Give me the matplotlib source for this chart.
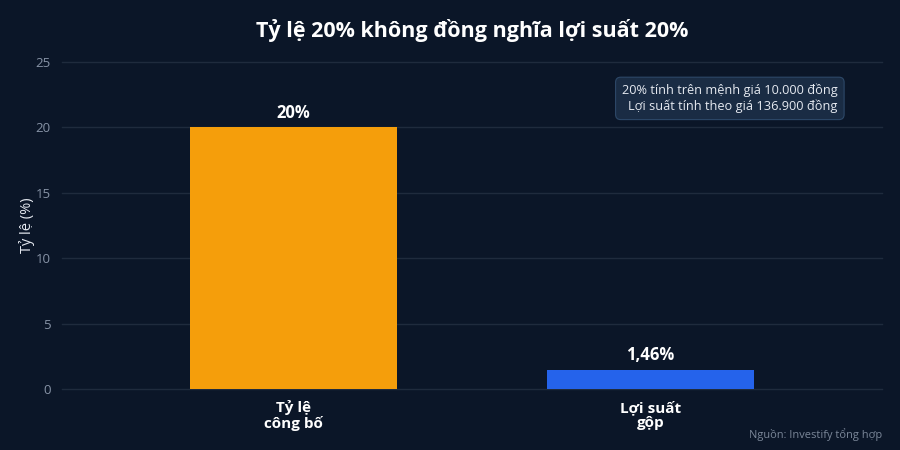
import matplotlib
matplotlib.use("Agg")
import matplotlib.pyplot as plt

categories = ["Tỷ lệ\ncông bố", "Lợi suất\ngộp"]
values = [20, 1.46]
value_labels = ["20%", "1,46%"]
colors = ["#f59e0b", "#2563eb"]
yticks = [0, 5, 10, 15, 20, 25]

plt.rcParams['font.family'] = ['Open Sans', 'Noto Sans', 'DejaVu Sans']
bg = "#0b1628"
fig = plt.figure(figsize=(9, 4.5), dpi=100, facecolor=bg)
ax = fig.add_axes([62/900, 61/450, 820/900, 327/450], facecolor=bg)

x = list(range(len(categories)))
ax.bar(x, values, width=0.58, color=colors, zorder=3)
for xi, v, lab in zip(x, values, value_labels):
    ax.text(xi, v + 0.45, lab, ha="center", va="bottom", color="white",
            fontsize=12, fontweight="bold", zorder=4)

ax.set_xlim(-0.648, 1.648)
ax.set_ylim(0, 25)
ax.set_yticks(yticks)
ax.set_yticklabels([str(t) for t in yticks], color="#8793a6", fontsize=9.5)
ax.set_xticks(x)
ax.set_xticklabels(categories, color="white", fontsize=11, fontweight="bold",
                   linespacing=1.1)
ax.tick_params(axis="both", length=0)
ax.tick_params(axis="x", pad=8)
ax.tick_params(axis="y", pad=8)
ax.grid(axis="y", color="#1f2b3d", linewidth=1, zorder=0)
ax.set_axisbelow(True)
for s in ax.spines.values():
    s.set_visible(False)
for gl in ax.get_ygridlines():
    gl.set_clip_on(False)

ax.set_ylabel("Tỷ lệ (%)", color="#e5e9f0", fontsize=10.5)
ax.yaxis.set_label_coords(-0.0335, 0.5)

fig.text(472/900, 1 - 30/450, "Tỷ lệ 20% không đồng nghĩa lợi suất 20%",
         ha="center", va="center", color="white", fontsize=15.5, fontweight="bold")

ax.text(0.946, 0.934,
        "20% tính trên mệnh giá 10.000 đồng\nLợi suất tính theo giá 136.900 đồng",
        transform=ax.transAxes, ha="right", va="top", color="#e5e9f0",
        fontsize=9.2, linespacing=1.25,
        bbox=dict(boxstyle="round,pad=0.5,rounding_size=0.4", facecolor="#1a2c44",
                  edgecolor="#2d4868", linewidth=0.8))

fig.text(1 - 18/900, 1 - 435/450, "Nguồn: Investify tổng hợp", ha="right",
         va="center", color="#7b8799", fontsize=7.9)

fig.savefig("out.png", dpi=100, facecolor=bg)
